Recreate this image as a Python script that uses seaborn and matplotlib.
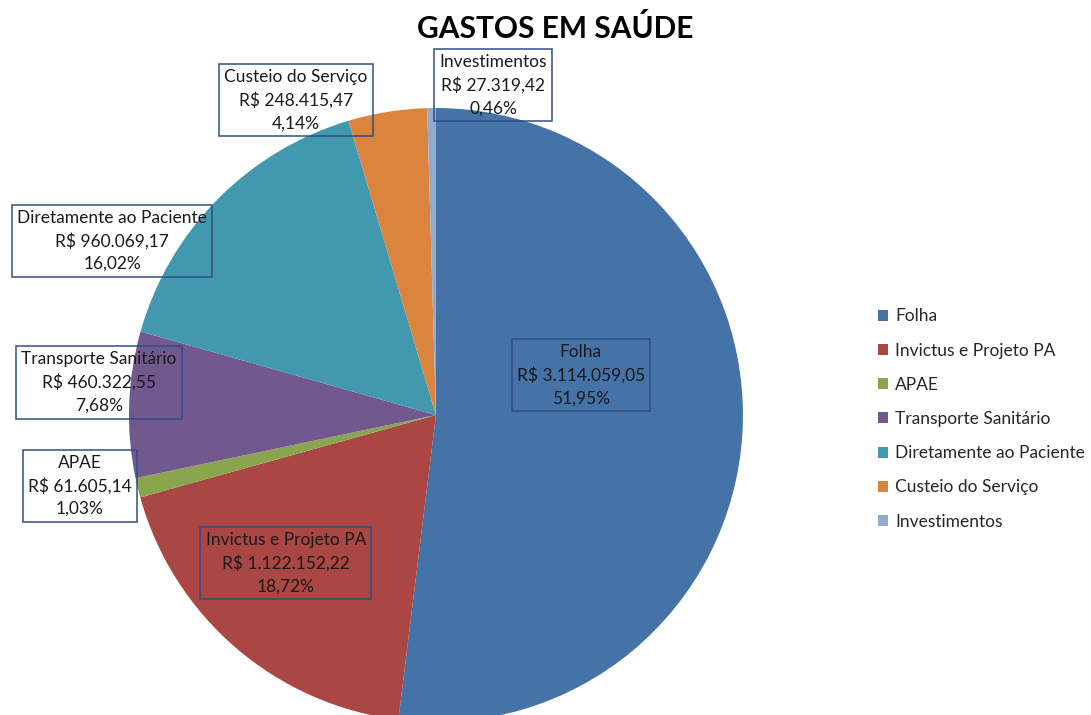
import matplotlib
matplotlib.use("Agg")
import matplotlib.pyplot as plt
import seaborn as sns

# data
categorias = ["Folha", "Invictus e Projeto PA", "APAE", "Transporte Sanitário",
              "Diretamente ao Paciente", "Custeio do Serviço", "Investimentos"]
valores = [3114059.05, 1122152.22, 61605.14, 460322.55, 960069.17, 248415.47, 27319.42]
valores_txt = ["R$ 3.114.059,05", "R$ 1.122.152,22", "R$ 61.605,14", "R$ 460.322,55",
               "R$ 960.069,17", "R$ 248.415,47", "R$ 27.319,42"]
cores = ["#4572A7", "#AA4643", "#89A54E", "#71588F", "#4198AF", "#DB843D", "#93A9CF"]

# label positions (data coords, pie radius = 1)
label_pos = [(0.472, 0.130), (-0.489, -0.482), (-1.160, -0.231), (-1.098, 0.107),
             (-1.055, 0.567), (-0.456, 1.026), (0.186, 1.075)]

sns.set_theme(style="white")
plt.rcParams['font.family'] = ['Lato', 'DejaVu Sans']

fig = plt.figure(figsize=(10.91, 7.15), dpi=100)
ax = fig.add_axes([0.1182, -0.0098, 0.5628, 0.8587])

wedges, _ = ax.pie(valores, colors=cores, startangle=90, counterclock=False,
                   radius=1, wedgeprops=dict(linewidth=0))
ax.set_xlim(-1, 1)
ax.set_ylim(-1, 1)
ax.set_aspect("equal")
ax.axis("off")

total = sum(valores)
for nome, v, vt, (x, y) in zip(categorias, valores, valores_txt, label_pos):
    pct = f"{v / total * 100:.2f}%".replace(".", ",")
    ax.text(x, y, f"{nome}\n{vt}\n{pct}", ha="center", va="center",
            fontsize=12.5, color="#1a1a1a", linespacing=1.5, zorder=5,
            bbox=dict(boxstyle="square,pad=0.3", fc="none", ec="#2E4F86", lw=1.1),
            clip_on=False)

fig.text(0.509, 0.96, "GASTOS EM SAÚDE", ha="center", va="center",
         fontsize=21.5, fontweight="bold", color="black")

fig.legend(wedges, categorias, loc="center left", bbox_to_anchor=(0.79, 0.414),
           frameon=False, fontsize=12.5, handlelength=0.6, handleheight=0.6,
           labelspacing=1.05, handletextpad=0.4)

fig.savefig("out.png", dpi=100)
